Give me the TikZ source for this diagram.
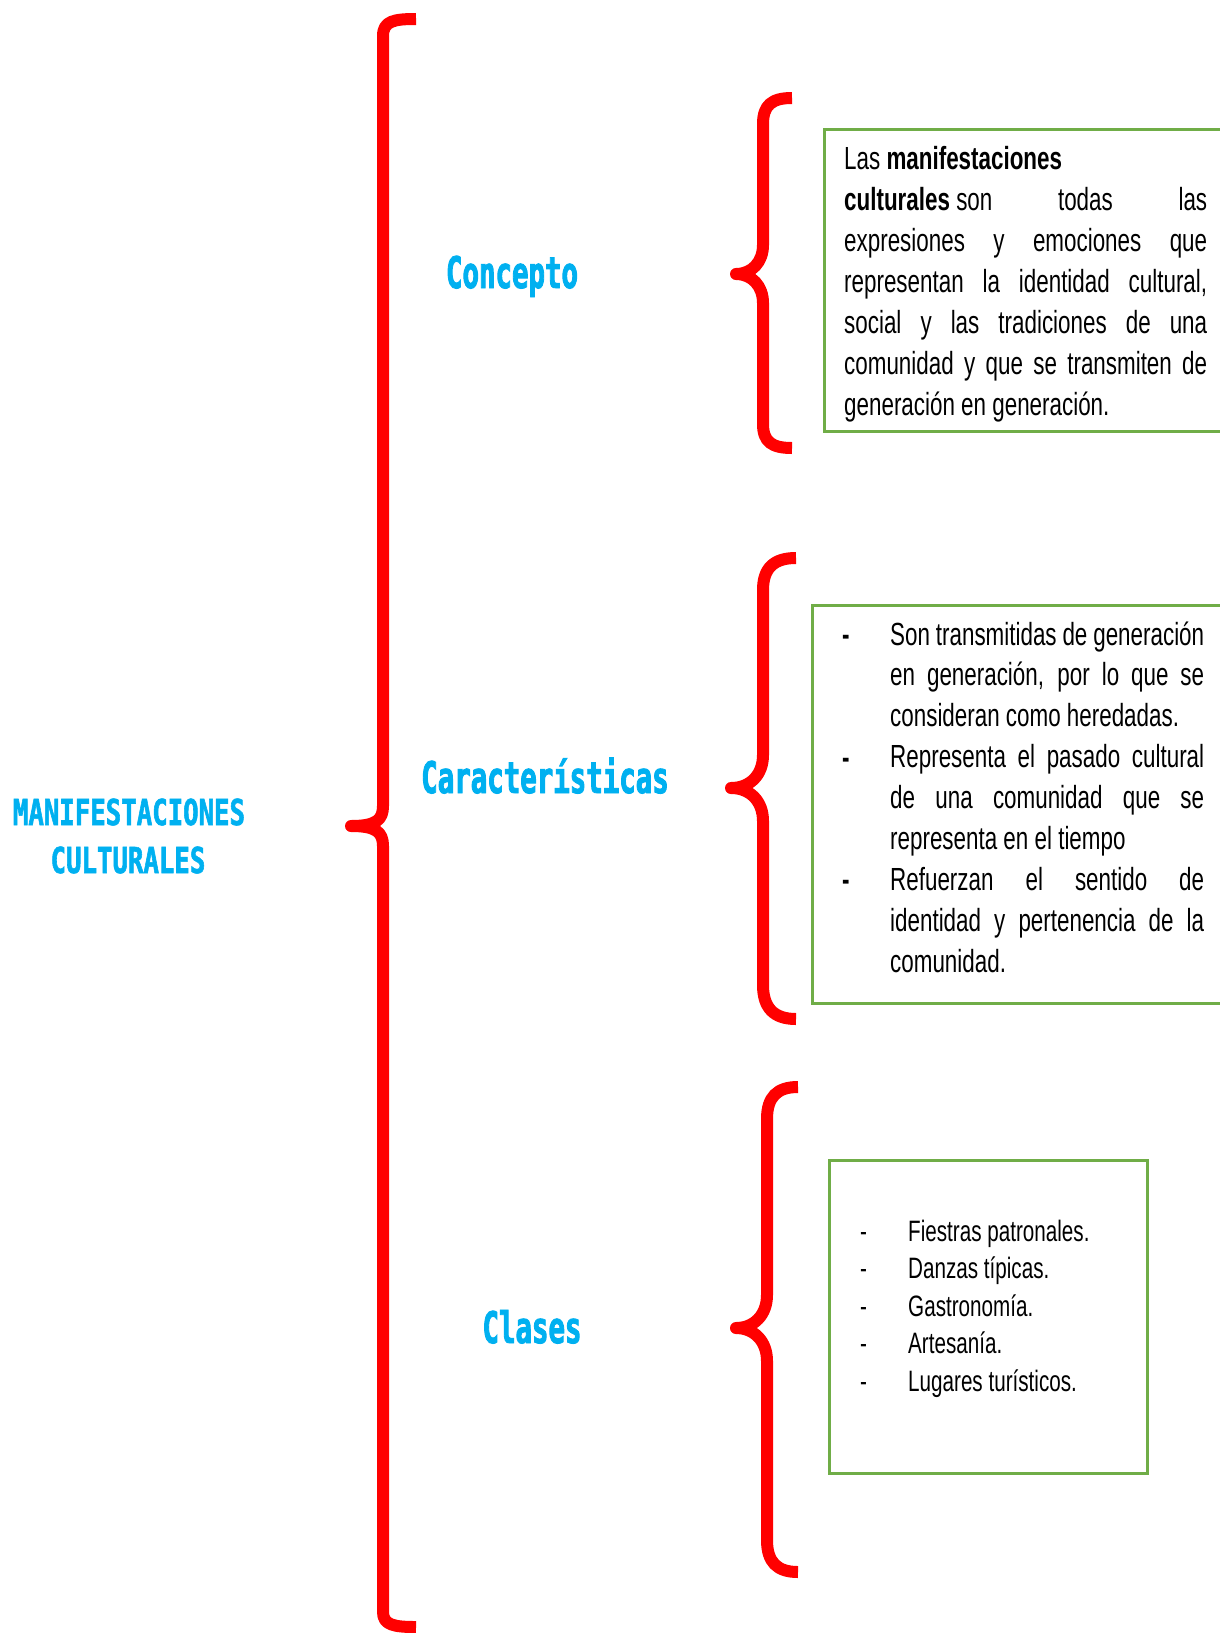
\documentclass[tikz,border=0pt]{standalone}
\usepackage{fontspec}
\setmainfont{Liberation Sans}[FakeStretch=0.70]
\newfontfamily\headfont{DejaVu Sans Mono}[FakeStretch=0.63,FakeBold=2]
\newfontfamily\mainheadfont{DejaVu Sans Mono}[FakeStretch=0.72,FakeBold=1.6]
\definecolor{bracered}{HTML}{FF0000}
\definecolor{titleblue}{HTML}{00B0F0}
\definecolor{boxgreen}{HTML}{70AD47}
\tikzset{
  bracepath/.style={draw=bracered, line width=12pt, line cap=butt, line join=round},
  infobox/.style={draw=boxgreen, line width=3pt, inner sep=0, anchor=north west},
  titletext/.style={text=titleblue, inner sep=0, anchor=base, font=\headfont\bfseries\fontsize{43.5}{50}\selectfont},
  maintitle/.style={text=titleblue, inner sep=0, anchor=base, font=\mainheadfont\bfseries\fontsize{35.7}{42}\selectfont},
  bodytext/.style={inner sep=0, anchor=base west, text=black},
}
\newcommand\myjline[2]{\makebox[#1][s]{#2}}
\newcommand\mylline[2]{\makebox[#1][l]{#2}}
\begin{document}
\begin{tikzpicture}[x=1pt,y=-1pt]
\useasboundingbox (0,0) rectangle (1220,1633);

% big brace
\draw[bracepath] (416,19) .. controls (394,19) and (383,21) .. (383,36)
  -- (383,806) .. controls (383,820) and (376,826) .. (351,826)
  .. controls (376,826) and (383,832) .. (383,846)
  -- (383,1612) .. controls (383,1625) and (394,1627) .. (416,1627);

% small braces
\draw[bracepath] (792,98) .. controls (772,98) and (763,105) .. (763,124)
  -- (763,245) .. controls (763,262) and (752,274) .. (736,274)
  .. controls (752,274) and (763,286) .. (763,303)
  -- (763,424) .. controls (763,442) and (772,448) .. (792,448);
\draw[bracepath] (796,558) .. controls (774,558) and (763,568) .. (763,590)
  -- (763,755) .. controls (763,775) and (750,788) .. (731,788)
  .. controls (750,788) and (763,801) .. (763,821)
  -- (763,985) .. controls (763,1008) and (774,1019) .. (796,1019);
\draw[bracepath] (798,1087) .. controls (777,1087) and (767,1097) .. (767,1119)
  -- (767,1295) .. controls (767,1315) and (754,1328) .. (736,1328)
  .. controls (754,1328) and (767,1341) .. (767,1361)
  -- (767,1540) .. controls (767,1562) and (777,1572) .. (798,1572);

% titles
\node[maintitle] (man1) at (129,825) {MANIFESTACIONES};
\node[maintitle] (man2) at (128,873) {CULTURALES};
\node[titletext] (concepto) at (512,288) {Concepto};
\node[titletext] (caract) at (545,793) {Características};
\node[titletext] (clases) at (532,1343) {Clases};

% boxes
\node[infobox, minimum width=420pt, minimum height=302pt] (box1) at (823,128) {};
\node[infobox, minimum width=430pt, minimum height=398pt] (box2) at (811,604) {};
\node[infobox, minimum width=318pt, minimum height=313pt] (box3) at (828,1159) {};

% box 1 text
\node[bodytext] (txt1) at (844,169) {\parbox[t]{363pt}{\fontsize{32}{41}\selectfont\lineskiplimit=-100pt
\mylline{363pt}{Las \textbf{manifestaciones}}\\
\myjline{363pt}{\textbf{culturales} son\hfill todas\hfill las}\\
\myjline{363pt}{expresiones y emociones que}\\
\myjline{363pt}{representan la identidad cultural,}\\
\myjline{363pt}{social y las tradiciones de una}\\
\myjline{363pt}{comunidad y que se transmiten de}\\
\mylline{363pt}{generación en generación.}}};

% box 2 text
\node[bodytext] (txt2) at (890,645) {\parbox[t]{314pt}{\fontsize{32}{40.9}\selectfont\lineskiplimit=-100pt
\myjline{314pt}{Son transmitidas de generación}\\
\myjline{314pt}{en generación, por lo que se}\\
\mylline{314pt}{consideran como heredadas.}\\
\myjline{314pt}{Representa el pasado cultural}\\
\myjline{314pt}{de una comunidad que se}\\
\mylline{314pt}{representa en el tiempo}\\
\myjline{314pt}{Refuerzan el sentido de}\\
\myjline{314pt}{identidad y pertenencia de la}\\
\mylline{314pt}{comunidad.}}};
\node[bodytext, font=\fontsize{32}{40}\selectfont\bfseries] (dash21) at (842,645) {-};
\node[bodytext, font=\fontsize{32}{40}\selectfont\bfseries] (dash22) at (842,768) {-};
\node[bodytext, font=\fontsize{32}{40}\selectfont\bfseries] (dash23) at (842,890) {-};

% box 3 text
\node[bodytext] (txt3) at (908,1241) {\parbox[t]{230pt}{\fontsize{29.5}{37.5}\selectfont\lineskiplimit=-100pt
Fiestras patronales.\\
Danzas típicas.\\
Gastronomía.\\
Artesanía.\\
Lugares turísticos.}};
\node[bodytext, font=\fontsize{29.5}{37}\selectfont] (dash31) at (860,1241) {-};
\node[bodytext, font=\fontsize{29.5}{37}\selectfont] (dash32) at (860,1278.5) {-};
\node[bodytext, font=\fontsize{29.5}{37}\selectfont] (dash33) at (860,1316) {-};
\node[bodytext, font=\fontsize{29.5}{37}\selectfont] (dash34) at (860,1353.5) {-};
\node[bodytext, font=\fontsize{29.5}{37}\selectfont] (dash35) at (860,1391) {-};
\end{tikzpicture}
\end{document}
